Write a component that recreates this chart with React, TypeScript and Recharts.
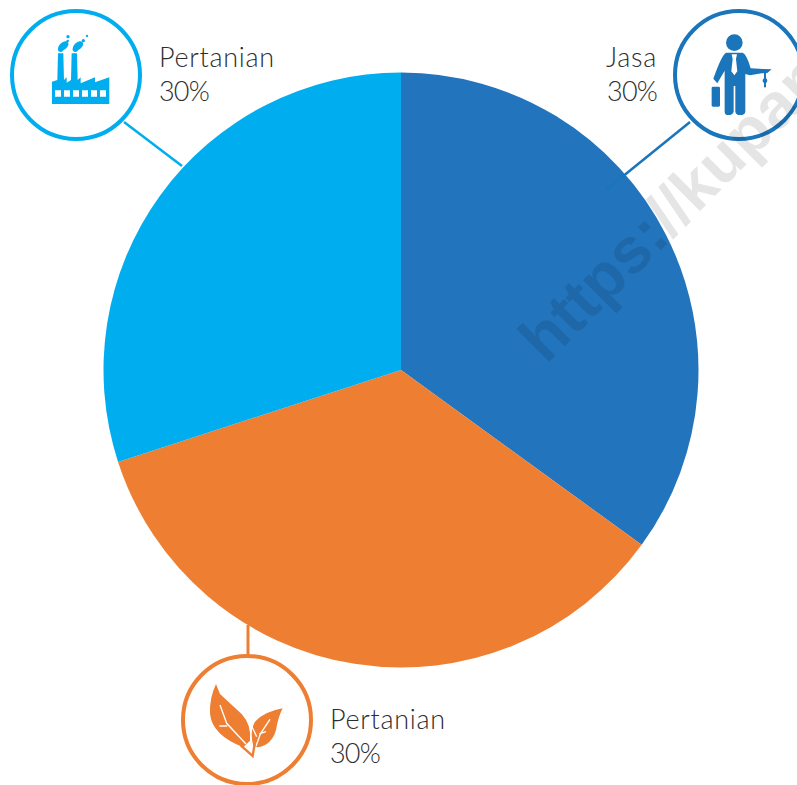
import { PieChart, Pie, Cell } from "recharts";

const categories = ["Jasa", "Pertanian", "Pertanian"];
const shares = [35, 35, 30];
const shareLabels = ["30%", "30%", "30%"];
const sliceColors = ["#2274BD", "#EE7E31", "#00ADEF"];

const data = categories.map((name, i) => ({ name, value: shares[i] }));

const textStyle = { fontFamily: "Lato, sans-serif", fontWeight: 300, fontSize: 27, fill: "#2e2e2e" };

function Caption({ x, y, index, anchor = "start" }: { x: number; y: number; index: number; anchor?: "start" | "end" }) {
  return (
    <g style={textStyle} textAnchor={anchor}>
      <text x={x} y={y} letterSpacing={0.7}>{categories[index]}</text>
      <text x={x} y={y + 34} letterSpacing={-0.8}>{shareLabels[index]}</text>
    </g>
  );
}

function Callouts() {
  return (
    <svg width={797} height={785} style={{ position: "absolute", left: 0, top: 0 }}>
      {/* leader lines */}
      <line x1={690} y1={122} x2={606} y2={190} stroke="#1A75BB" strokeWidth={2.5} />
      <line x1={124} y1={122} x2={182} y2={166} stroke="#00ADEF" strokeWidth={2.5} />
      <line x1={248} y1={625} x2={248} y2={656} stroke="#EE7E31" strokeWidth={3} />

      {/* circles */}
      <circle cx={739} cy={75} r={64} fill="#fff" stroke="#1A75BB" strokeWidth={4} />
      <circle cx={76} cy={75} r={64} fill="#fff" stroke="#00ADEF" strokeWidth={4} />
      <circle cx={247} cy={720} r={64} fill="#fff" stroke="#EE7E31" strokeWidth={4} />

      {/* factory */}
      <g transform="scale(0.3333)" fill="#00ADEF">
        <path
          fillRule="evenodd"
          d="M156,312 V245 L172,240 L174,160 H190 L192,240 L200,232 V248 L213,240 L215,160 H231 L233,240 L242,232 V250 L285,232 V247 L328,232 V312 Z
             M165,271 h18 v19 h-18 Z M192,271 h18 v19 h-18 Z M219,271 h18 v19 h-18 Z M246,271 h18 v19 h-18 Z M273,271 h18 v19 h-18 Z M300,271 h18 v19 h-18 Z"
        />
        <ellipse cx={190} cy={138} rx={18} ry={11} transform="rotate(-40 190 138)" />
        <circle cx={182} cy={148} r={8} />
        <circle cx={204} cy={110} r={5} />
        <circle cx={203} cy={123} r={4} />
        <ellipse cx={234} cy={138} rx={18} ry={11} transform="rotate(-40 234 138)" />
        <circle cx={226} cy={148} r={8} />
        <circle cx={250} cy={122} r={5} />
        <circle cx={261} cy={108} r={3.5} />
      </g>

      {/* man with briefcase */}
      <g transform="translate(590 0) scale(0.3333)" fill="#1A75BB">
        <circle cx={433} cy={128} r={25} />
        <path d="M408,158 H458 Q470,162 482,205 L520,207 L545,208 L532,219 L515,220 L480,226 L466,222 V335 Q465,345 450,345 Q438,345 436,335 V258 H431 V335 Q428,345 415,345 Q404,345 404,335 V212 L382,250 L370,236 Q395,165 408,158 Z" />
        <rect x={365} y={260} width={25} height={60} rx={4} />
        <path d="M425,163 H441 L438,177 L442,214 L433,226 L424,214 L428,177 Z" fill="#fff" />
        <rect x={522} y={215} width={6} height={47} />
        <circle cx={525} cy={242} r={7} />
      </g>

      {/* leaves */}
      <g transform="translate(170 620) scale(0.3333)">
        <path d="M138,192 Q118,235 120,280 Q125,345 220,382 L240,362 Q245,315 215,282 Q180,250 150,222 Z" fill="#EE7E31" />
        <path d="M338,265 Q282,275 255,305 Q238,335 250,378 L265,382 Q305,375 318,330 Q325,290 338,265 Z" fill="#EE7E31" />
        <path d="M150,255 L170,310 L228,372 M148,318 L172,318 M300,298 L272,340 L258,378 M245,318 L260,350 M288,335 L268,342" fill="none" stroke="#fff" strokeWidth={4} />
        <path d="M212,376 L248,408 L254,372" fill="none" stroke="#EE7E31" strokeWidth={7} />
      </g>

      <Caption x={159} y={67} index={1} />
      <Caption x={657} y={67} index={0} anchor="end" />
      <Caption x={330} y={729} index={1} />

      {/* watermark */}
      <text
        transform="translate(546 365) rotate(-45)"
        style={{ fontFamily: "Liberation Sans, sans-serif", fontWeight: 700, fontSize: 64 }}
        fill="#000"
        fillOpacity={0.1}
      >
        https://kupan
      </text>
    </svg>
  );
}

export default function App() {
  return (
    <div style={{ position: "absolute", left: 0, top: 0, width: 797, height: 785, overflow: "hidden" }}>
      <PieChart width={797} height={785} margin={{ top: 0, right: 0, bottom: 0, left: 0 }}>
        <Pie
          data={data}
          dataKey="value"
          nameKey="name"
          cx={401}
          cy={370}
          outerRadius={297.5}
          startAngle={90}
          endAngle={-270}
          stroke="none"
          isAnimationActive={false}
        >
          {data.map((entry, i) => (
            <Cell key={i} fill={sliceColors[i]} />
          ))}
        </Pie>
      </PieChart>
      <Callouts />
    </div>
  );
}
